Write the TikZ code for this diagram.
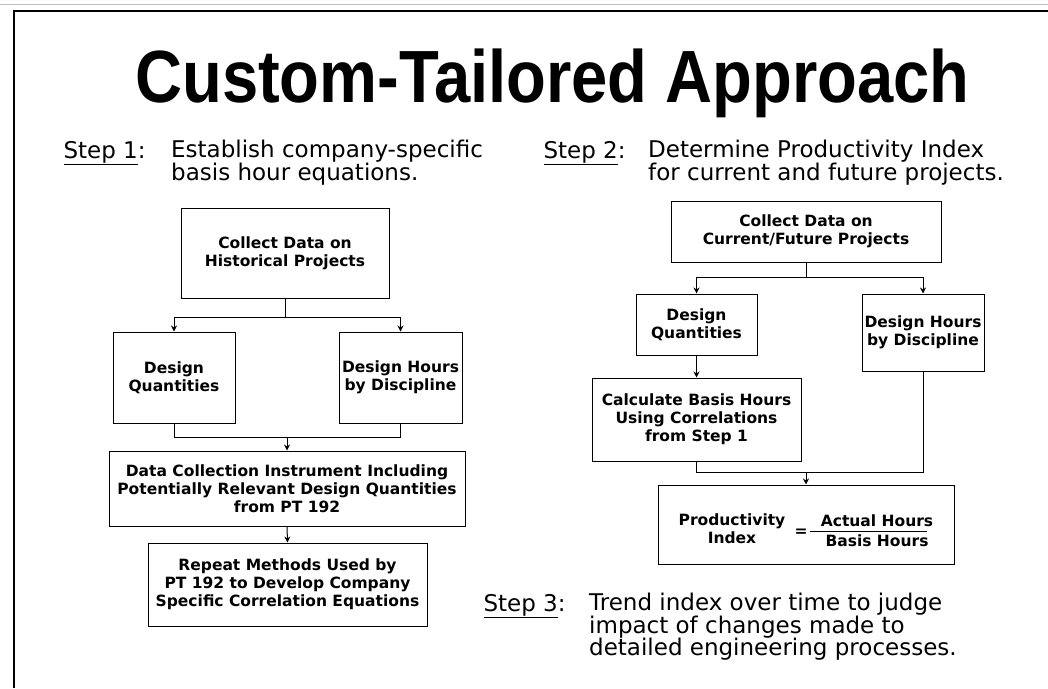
\documentclass[tikz,border=0pt]{standalone}
\usepackage{fontspec}
\setmainfont{DejaVu Sans}
\newfontfamily\titlefont[FakeStretch=0.88]{Liberation Sans Bold}
\usetikzlibrary{arrows.meta}

\begin{document}
\begin{tikzpicture}[x=1pt,y=-1pt,
  box/.style={draw,line width=1pt,inner sep=0pt,align=center,
    font=\bfseries\fontsize{15.5}{18}\selectfont},
  link/.style={line width=1pt},
  arr/.style={line width=1pt,-{Stealth[length=6pt,width=6pt]}},
  steplabel/.style={anchor=base west,font=\fontsize{23}{23}\selectfont},
  steptext/.style={anchor=north west,align=left,inner sep=0pt,
    font=\fontsize{23}{22.5}\selectfont}]
\useasboundingbox (0,0) rectangle (1048,688);
%frame
\draw[gray!50,line width=1pt] (0,4) -- (1048,4);
\draw[line width=1.5pt] (1048,11) -- (14,11) -- (14,688);
%title
\node[anchor=base west,inner sep=0pt,font=\titlefont\fontsize{74}{74}\selectfont] (title) at (135,102) {Custom-Tailored Approach};
%Step 1
\node[steplabel] (s1) at (60,158) {\underline{Step 1}:};
\node[steptext] (s1txt) at (171,140) {Establish company-specific\\basis hour equations.};
\node[box,minimum width=208,minimum height=90] (hist) at (285,253) {Collect Data on\\Historical Projects};
\node[box,minimum width=122,minimum height=91] (dq1) at (174,377.5) {Design\\Quantities};
\node[box,minimum width=123,minimum height=91] (dh1) at (400.5,377.5) {Design Hours\\by Discipline};
\node[box,minimum width=356,minimum height=75] (dci) at (287,488.5) {Data Collection Instrument Including\\Potentially Relevant Design Quantities\\from PT 192};
\node[box,minimum width=279,minimum height=83] (rep) at (287.5,584.5) {Repeat Methods Used by\\PT 192 to Develop Company\\Specific Correlation Equations};
\draw[link] (hist.south) -- ++(0,19) coordinate (j1);
\draw[arr] (j1) -| (dq1.north);
\draw[arr] (j1) -| (dh1.north);
\draw[link] (dq1.south) -- ++(0,14) coordinate (j2) -| (dh1.south);
\draw[arr] (dci.north |- j2) -- (dci.north);
\draw[arr] (dci.south) -- (rep.north);
%Step 2
\node[steplabel] (s2) at (540,158) {\underline{Step 2}:};
\node[steptext] (s2txt) at (648,140) {Determine Productivity Index\\for current and future projects.};
\node[box,minimum width=270,minimum height=61] (cur) at (806,231.5) {Collect Data on\\Current/Future Projects};
\node[box,minimum width=121,minimum height=61] (dq2) at (696.5,324.5) {Design\\Quantities};
\node[box,minimum width=122,minimum height=77] (dh2) at (923,332.5) {Design Hours\\by Discipline};
\node[box,minimum width=209,minimum height=83] (calc) at (696.5,419.5) {Calculate Basis Hours\\Using Correlations\\from Step 1};
\node[box,minimum width=296,minimum height=79] (prod) at (806,524.5) {};
\draw[link] (cur.south) -- ++(0,15) coordinate (j3);
\draw[arr] (j3) -| (dq2.north);
\draw[arr] (j3) -| (dh2.north);
\draw[arr] (dq2.south) -- (calc.north);
\draw[link] (calc.south) -- ++(0,11) coordinate (j4) -| (dh2.south);
\draw[arr] (prod.north |- j4) -- (prod.north);
%Text
\node[align=center,font=\bfseries\fontsize{15.5}{18}\selectfont] (pidx) at (732,529) {Productivity\\Index};
\node[font=\bfseries\fontsize{15.5}{18}\selectfont] (eq) at (801,533) {=};
\node[anchor=base,font=\bfseries\fontsize{15.5}{18}\selectfont] (actual) at (877,526) {Actual Hours};
\node[anchor=base,font=\bfseries\fontsize{15.5}{18}\selectfont] (basis) at (877,546) {Basis Hours};
\draw[link] (810,531) -- (927,531);
%Step 3
\node[steplabel] (s3) at (480,611) {\underline{Step 3}:};
\node[steptext] (s3txt) at (589,593) {Trend index over time to judge\\impact of changes made to\\detailed engineering processes.};
\end{tikzpicture}
\end{document}
